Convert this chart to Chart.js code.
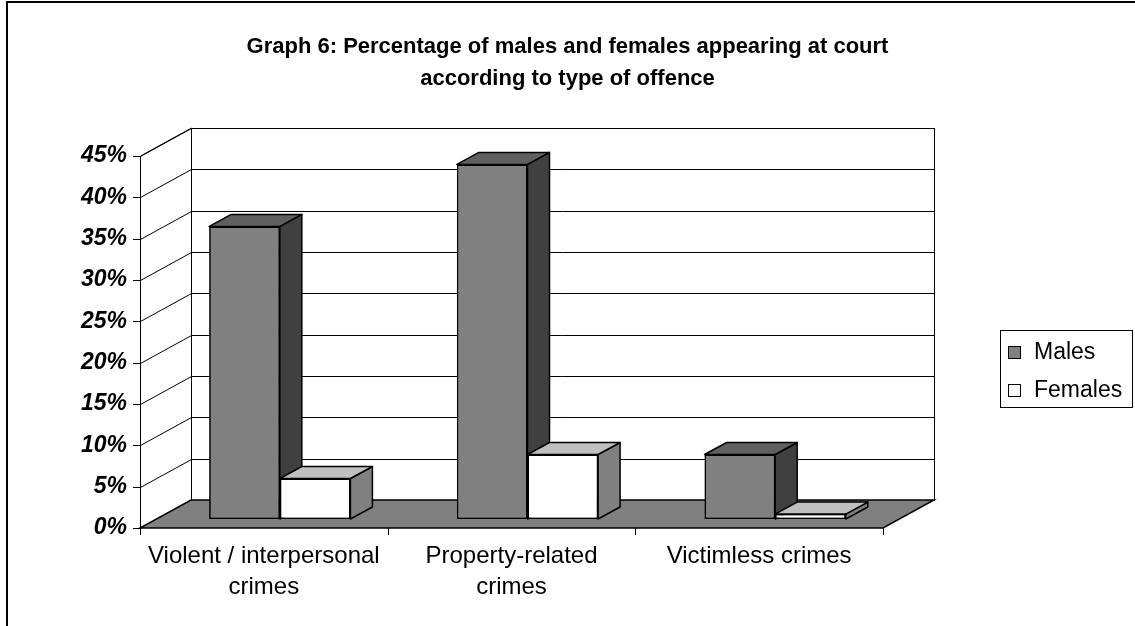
<!DOCTYPE html>
<html>
<head>
<meta charset="utf-8">
<script src="https://cdn.jsdelivr.net/npm/chart.js@4.4.0/dist/chart.umd.min.js"></script>
<style>
body { margin: 0; background: #fff; }
canvas { display: block; }
</style>
</head>
<body>
<canvas id="graph6" width="1135" height="626"></canvas>
<script>
// data (percent)
const categories = [['Violent / interpersonal', 'crimes'], ['Property-related', 'crimes'], ['Victimless crimes']];
const males = [35.4, 42.9, 7.8];
const females = [4.9, 7.8, 0.6];
const yMax = 45;
const yStep = 5;

const FONT = "Arial, 'Liberation Sans', sans-serif";
Chart.defaults.font.family = FONT;
Chart.defaults.color = '#000';

// fake 3d: offsets from the plane the bars stand on
const toFront = { x: -16, y: 9 };
const toBack = { x: 35, y: -19 };
const barDepth = { x: 22, y: -12 };

function line(ctx, x1, y1, x2, y2) {
    ctx.beginPath();
    ctx.moveTo(x1, y1);
    ctx.lineTo(x2, y2);
    ctx.stroke();
}

function poly(ctx, pts, fill) {
    ctx.beginPath();
    ctx.moveTo(pts[0][0], pts[0][1]);
    for (let i = 1; i < pts.length; i++) ctx.lineTo(pts[i][0], pts[i][1]);
    ctx.closePath();
    ctx.fillStyle = fill;
    ctx.fill();
    ctx.stroke();
}

const walls = {
    id: 'walls',
    beforeDatasetsDraw(chart) {
        const ctx = chart.ctx;
        const a = chart.chartArea;
        const ys = chart.scales.y;
        const xs = chart.scales.x;
        const y0 = ys.getPixelForValue(0);
        const yTop = ys.getPixelForValue(yMax);
        ctx.save();
        ctx.strokeStyle = '#000';
        ctx.lineWidth = 1;
        // back wall
        ctx.strokeRect(a.left + toBack.x + 0.5, yTop + toBack.y + 0.5, a.right - a.left, y0 - yTop);
        // left wall top edge + front axis
        line(ctx, a.left + toFront.x + 0.5, yTop + toFront.y, a.left + toBack.x + 0.5, yTop + toBack.y);
        line(ctx, a.left + toFront.x + 0.5, y0 + toFront.y, a.left + toFront.x + 0.5, yTop + toFront.y);
        // gridlines on back wall and side wall
        ys.ticks.forEach(t => {
            const py = Math.round(ys.getPixelForValue(t.value)) + 0.5;
            if (t.value > 0 && t.value < yMax) {
                line(ctx, a.left + toBack.x, py + toBack.y, a.right + toBack.x, py + toBack.y);
            }
            line(ctx, a.left + toFront.x + 0.5, py + toFront.y, a.left + toBack.x + 0.5, py + toBack.y);
            line(ctx, a.left + toFront.x - 7, py + toFront.y, a.left + toFront.x + 0.5, py + toFront.y);
        });
        // floor
        ctx.lineWidth = 1.5;
        poly(ctx, [
            [a.left + toFront.x, y0 + toFront.y],
            [a.right + toFront.x, y0 + toFront.y],
            [a.right + toBack.x, y0 + toBack.y],
            [a.left + toBack.x, y0 + toBack.y]
        ], '#808080');
        // category ticks on the front edge
        ctx.lineWidth = 1;
        const n = xs.ticks.length;
        for (let i = 0; i <= n; i++) {
            const px = Math.round(a.left + (a.right - a.left) * i / n + toFront.x) + 0.5;
            line(ctx, px, y0 + toFront.y, px, y0 + toFront.y + 7);
        }
        ctx.restore();
    },
    afterDatasetsDraw(chart) {
        // redraw each bar left to right with its side and top faces
        const ctx = chart.ctx;
        const n = chart.data.labels.length;
        for (let i = 0; i < n; i++) {
            chart.data.datasets.forEach((ds, d) => {
                const el = chart.getDatasetMeta(d).data[i];
                el.draw(ctx, chart.chartArea);
                const l = el.x - el.width / 2;
                const r = el.x + el.width / 2;
                const top = el.y;
                const bot = el.base;
                ctx.save();
                ctx.strokeStyle = '#000';
                ctx.lineWidth = 1.5;
                ctx.lineJoin = 'round';
                poly(ctx, [[r, top], [r + barDepth.x, top + barDepth.y], [r + barDepth.x, bot + barDepth.y], [r, bot]], ds.sideColor);
                poly(ctx, [[l, top], [l + barDepth.x, top + barDepth.y], [r + barDepth.x, top + barDepth.y], [r, top]], ds.topColor);
                ctx.restore();
            });
        }
    },
    afterDraw(chart) {
        const ctx = chart.ctx;
        ctx.save();
        // outer frame (left and top edges only are in the picture)
        ctx.strokeStyle = '#000';
        ctx.lineWidth = 2;
        ctx.beginPath();
        ctx.moveTo(7, 626);
        ctx.lineTo(7, 2);
        ctx.lineTo(1135, 2);
        ctx.stroke();
        // legend box
        ctx.lineWidth = 1;
        ctx.strokeRect(1000.5, 330.5, 132, 77);
        ctx.font = '23px ' + FONT;
        ctx.textBaseline = 'middle';
        chart.data.datasets.forEach((ds, i) => {
            const cy = 353 + i * 38;
            ctx.fillStyle = ds.backgroundColor;
            ctx.fillRect(1008.5, cy - 6.5, 12, 12);
            ctx.strokeRect(1008.5, cy - 6.5, 12, 12);
            ctx.fillStyle = '#000';
            ctx.fillText(ds.label, 1034, cy);
        });
        ctx.restore();
    }
};

new Chart(document.getElementById('graph6'), {
    type: 'bar',
    data: {
        labels: categories,
        datasets: [{
            label: 'Males',
            data: males,
            backgroundColor: '#808080',
            sideColor: '#404040',
            topColor: '#606060',
            borderColor: '#000',
            borderWidth: 1.5,
            borderSkipped: false
        }, {
            label: 'Females',
            data: females,
            backgroundColor: '#ffffff',
            sideColor: '#808080',
            topColor: '#c0c0c0',
            borderColor: '#000',
            borderWidth: 1.5,
            borderSkipped: false
        }]
    },
    options: {
        responsive: false,
        animation: false,
        devicePixelRatio: 1,
        layout: { padding: 0 },
        categoryPercentage: 0.57,
        barPercentage: 1.0,
        plugins: {
            legend: { display: false },
            tooltip: { enabled: false },
            title: {
                display: true,
                text: ['Graph 6: Percentage of males and females appearing at court', 'according to type of offence'],
                font: { size: 22, weight: 'bold', lineHeight: 1.455 },
                color: '#000',
                padding: { top: 31, bottom: 52 }
            }
        },
        scales: {
            x: {
                grid: { display: false, drawTicks: false },
                border: { display: false },
                ticks: {
                    font: { size: 24, lineHeight: 1.3 },
                    color: '#000',
                    labelOffset: toFront.x,
                    padding: 22,
                    maxRotation: 0,
                    autoSkip: false
                },
                afterFit(scale) { scale.height = 107; }
            },
            y: {
                min: 0,
                max: yMax,
                grid: { display: false, drawTicks: false },
                border: { display: false },
                ticks: {
                    stepSize: yStep,
                    font: { size: 23, weight: 'bold', style: 'italic' },
                    color: '#000',
                    labelOffset: toFront.y,
                    padding: 29,
                    callback: v => v + '%'
                },
                afterFit(scale) { scale.width = 156; }
            },
            // empty strip on the right that holds the legend area
            side: {
                position: 'right',
                display: true,
                grid: { display: false, drawTicks: false },
                border: { display: false },
                ticks: { display: false },
                afterFit(scale) { scale.width = 236; }
            }
        }
    },
    plugins: [walls]
});
</script>
</body>
</html>
